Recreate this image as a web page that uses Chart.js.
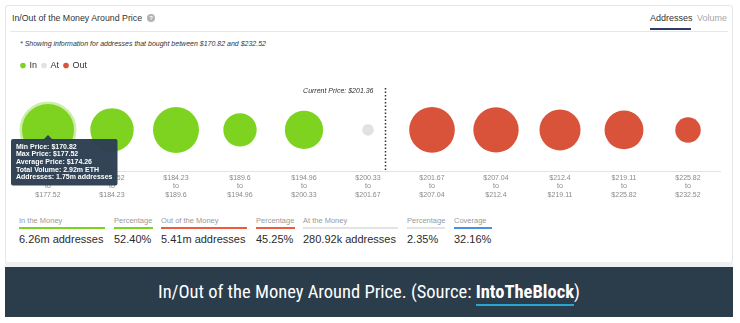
<!DOCTYPE html>
<html>
<head>
<meta charset="utf-8">
<script src="https://cdn.jsdelivr.net/npm/chart.js@4.4.1/dist/chart.umd.min.js"></script>
<style>
  html, body { margin: 0; padding: 0; background: #fff; }
  body { width: 740px; height: 323px; position: relative; overflow: hidden; font-family: "Liberation Sans", Arial, sans-serif; color: #333; }
  .card { position: absolute; left: 5px; top: 5px; width: 726px; height: 256px; border: 1px solid #e4e6e9; border-radius: 3px; background: #fff; }
  .shade { position: absolute; left: 5px; top: 262px; width: 728px; height: 5px; background: #eef0f2; }
  .abs { position: absolute; white-space: nowrap; }
  .title { left: 12px; top: 12px; font-size: 8.8px; line-height: 12px; color: #333; }
  .help { left: 147px; top: 14px; width: 8px; height: 8px; border-radius: 50%; background: #b3b3b3; color: #fff; font-size: 6px; line-height: 8px; text-align: center; font-weight: bold; }
  .tab { top: 12px; font-size: 9px; line-height: 12px; }
  .tab.on { left: 650px; color: #333; }
  .tab.off { left: 697px; color: #a8a8a8; }
  .tabline { left: 650px; top: 28px; width: 41px; height: 2px; background: #2c3d6b; }
  .sep { left: 10px; top: 31px; width: 718px; height: 1px; background: #e3e7ee; }
  .note { left: 20px; top: 39px; font-size: 7px; line-height: 10px; font-style: italic; color: #333; }
  #chartBox { position: absolute; left: 11px; top: 56px; }
  .stat { position: absolute; top: 216px; }
  .stat .lbl { font-size: 7.5px; line-height: 10px; color: #9a9a9a; padding-bottom: 1px; border-bottom: 2px solid #ddd; }
  .stat .val { font-size: 11px; line-height: 14px; color: #2b2b2b; margin-top: 3px; }
  .banner { position: absolute; left: 5px; top: 267px; width: 728px; height: 50px; background: #2b3c4b; color: #fff; text-align: center; font-family: "Liberation Sans Narrow", "Roboto Condensed", "Liberation Sans", sans-serif; font-size: 18.5px; line-height: 51px; }
  .banner b { border-bottom: 2px solid #26a6d1; padding-bottom: 1px; }
</style>
</head>
<body>
<div class="card"></div>
<div class="shade"></div>
<div class="abs title">In/Out of the Money Around Price</div>
<div class="abs help">?</div>
<div class="abs tab on">Addresses</div>
<div class="abs tab off">Volume</div>
<div class="abs tabline"></div>
<div class="abs sep"></div>
<div class="abs note">* Showing information for addresses that bought between $170.82 and $232.52</div>
<div id="chartBox"><canvas id="iomChart" width="717" height="149"></canvas></div>
<div id="stats"></div>
<div class="banner">In/Out of the Money Around Price. (Source: <b>IntoTheBlock</b>)</div>
<script>
// price buckets around the current price
const RANGE_LOW = [170.82, 177.52, 184.23, 189.6, 194.96, 200.33, 201.67, 207.04, 212.4, 219.11, 225.82];
const RANGE_HIGH = [177.52, 184.23, 189.6, 194.96, 200.33, 201.67, 207.04, 212.4, 219.11, 225.82, 232.52];
// addresses per bucket, millions
const ADDRESSES_M = [1.75, 1.22, 1.37, 0.72, 0.95, 0.09, 1.35, 1.33, 1.09, 0.98, 0.42];
const BUCKET_ZONE = ['In', 'In', 'In', 'In', 'In', 'At', 'Out', 'Out', 'Out', 'Out', 'Out'];
const AVG_PRICE = [174.26, null, null, null, null, null, null, null, null, null, null];
const VOLUME_M_ETH = [2.92, null, null, null, null, null, null, null, null, null, null];
const CURRENT_PRICE = 201.36;

const ZONES = ['In', 'At', 'Out'];
const ZONE_COLORS = { In: '#7ed321', At: '#e2e2e2', Out: '#d9533a' };

const STAT_LABELS = ['In the Money', 'Percentage', 'Out of the Money', 'Percentage', 'At the Money', 'Percentage', 'Coverage'];
const STAT_VALUES = ['6.26m addresses', '52.40%', '5.41m addresses', '45.25%', '280.92k addresses', '2.35%', '32.16%'];
const STAT_COLORS = ['#7ed321', '#7ed321', '#ee5b3f', '#ee5b3f', '#e3e3e3', '#e3e3e3', '#4a8fe7'];
const STAT_LEFT = [19, 114, 161, 256, 303, 407, 454];
const STAT_WIDTH = [86, 39, 86, 39, 95, 38, 38];

const FONT = '"Liberation Sans", Arial, sans-serif';
const R_PER_SQRT_M = 19.65;
const bubbleRadius = v => R_PER_SQRT_M * Math.sqrt(v);

// summary row under the chart
document.getElementById('stats').innerHTML = STAT_LABELS.map((l, i) => `
  <div class="stat" style="left:${STAT_LEFT[i]}px;width:${STAT_WIDTH[i]}px">
    <div class="lbl" style="border-color:${STAT_COLORS[i]}">${l}</div>
    <div class="val">${STAT_VALUES[i]}</div>
  </div>`).join('');

const money = v => '$' + String(v);

// where the current price sits along the bucket axis
function priceToAxis(p) {
  const i = RANGE_LOW.findIndex((lo, k) => p >= lo && p <= RANGE_HIGH[k]);
  return i - 0.5 + (p - RANGE_LOW[i]) / (RANGE_HIGH[i] - RANGE_LOW[i]);
}

const datasets = ZONES.map(z => ({
  label: z,
  data: ADDRESSES_M.map((v, i) => ({ x: i, y: 0.5, r: bubbleRadius(v) })).filter(p => BUCKET_ZONE[p.x] === z),
  backgroundColor: ZONE_COLORS[z],
  borderWidth: 0,
  hoverBackgroundColor: ZONE_COLORS[z],
  hoverRadius: 1.25,
  hoverBorderWidth: 2.5,
  hoverBorderColor: '#cdeeaa',
}));

Chart.Tooltip.positioners.underBubble = function (items) {
  if (!items.length) return false;
  const el = items[0].element;
  return { x: el.x, y: el.y, xAlign: 'center', yAlign: 'top' };
};

// push the plot down a little from the legend
const legendGap = {
  id: 'legendGap',
  beforeInit(chart) {
    const fit = chart.legend.fit;
    chart.legend.fit = function () { fit.call(this); this.height += 8; };
  }
};

const currentPriceLine = {
  id: 'currentPriceLine',
  afterDatasetsDraw(chart) {
    const { ctx, chartArea, scales } = chart;
    const x = Math.round(scales.x.getPixelForValue(priceToAxis(CURRENT_PRICE))) + 0.5;
    ctx.save();
    ctx.strokeStyle = '#333';
    ctx.lineWidth = 1.5;
    ctx.setLineDash([1.5, 2]);
    ctx.beginPath();
    ctx.moveTo(x, chartArea.top);
    ctx.lineTo(x, chartArea.bottom);
    ctx.stroke();
    ctx.setLineDash([]);
    ctx.fillStyle = '#333';
    ctx.font = 'italic 7px ' + FONT;
    ctx.textAlign = 'right';
    ctx.textBaseline = 'middle';
    ctx.fillText('Current Price: ' + money(CURRENT_PRICE), x - 12, chartArea.top + 3);
    ctx.restore();
  }
};

const chart = new Chart(document.getElementById('iomChart'), {
  type: 'bubble',
  data: { datasets },
  plugins: [legendGap, currentPriceLine],
  options: {
    responsive: false,
    animation: false,
    events: [],
    layout: { autoPadding: false, padding: { left: 5, right: 8, top: 0, bottom: 4 } },
    plugins: {
      legend: {
        position: 'top',
        align: 'start',
        labels: {
          usePointStyle: true,
          pointStyle: 'circle',
          boxWidth: 4,
          boxHeight: 4,
          padding: 5,
          color: '#333',
          font: { family: FONT, size: 9 },
        }
      },
      tooltip: {
        position: 'underBubble',
        xAlign: 'center',
        yAlign: 'top',
        backgroundColor: 'rgba(44,62,82,0.97)',
        bodyColor: '#fff',
        bodyFont: { family: FONT, size: 7, weight: 'bold', lineHeight: 1.1 },
        bodySpacing: 0,
        padding: { left: 5, right: 5, top: 4, bottom: 4 },
        cornerRadius: 2,
        caretSize: 4,
        caretPadding: 5,
        displayColors: false,
        callbacks: {
          title: () => '',
          label: ctx => {
            const i = ctx.raw.x;
            const lines = ['Min Price: ' + money(RANGE_LOW[i]), 'Max Price: ' + money(RANGE_HIGH[i])];
            if (AVG_PRICE[i] != null) lines.push('Average Price: ' + money(AVG_PRICE[i]));
            if (VOLUME_M_ETH[i] != null) lines.push('Total Volume: ' + VOLUME_M_ETH[i] + 'm ETH');
            lines.push('Addresses: ' + ADDRESSES_M[i] + 'm addresses');
            return lines;
          }
        }
      }
    },
    scales: {
      x: {
        type: 'linear',
        min: -0.5,
        max: RANGE_LOW.length - 0.5,
        afterBuildTicks: axis => { axis.ticks = RANGE_LOW.map((_, i) => ({ value: i })); },
        grid: { display: false, drawTicks: false },
        border: { display: true, color: '#dde5ef', width: 1 },
        ticks: {
          autoSkip: false,
          maxRotation: 0,
          padding: 2,
          color: '#8a8a8a',
          font: { family: FONT, size: 7 },
          callback: v => [money(RANGE_LOW[v]), 'to', money(RANGE_HIGH[v])],
        }
      },
      y: { display: false, min: 0, max: 1 }
    }
  }
});

// show the first bucket's details, as when hovered
const hovered = [{ datasetIndex: 0, index: 0 }];
chart.setActiveElements(hovered);
chart.tooltip.setActiveElements(hovered, { x: 0, y: 0 });
chart.update();
</script>
</body>
</html>
